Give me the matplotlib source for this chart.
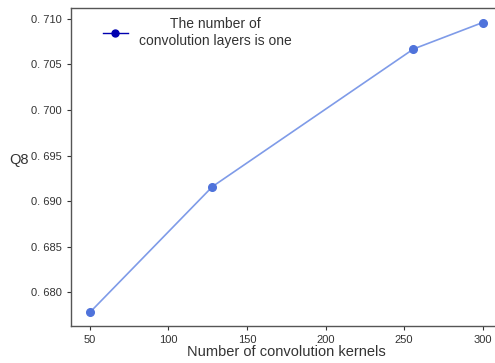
import numpy as np
import matplotlib
matplotlib.use('Agg')
import matplotlib.pyplot as plt
from matplotlib.lines import Line2D

kernels = [50, 128, 256, 300]
q8 = [0.6778, 0.6916, 0.7067, 0.7096]
yticks = [0.680, 0.685, 0.690, 0.695, 0.700, 0.705, 0.710]
ytick_labels = ['0. 680', '0. 685', '0. 690', '0. 695', '0. 700', '0. 705', '0. 710']
xticks = [50, 100, 150, 200, 250, 300]

plt.rcParams.update({'font.family': ['Liberation Sans', 'DejaVu Sans'], 'font.size': 8})

fig = plt.figure(figsize=(4.95, 3.63), dpi=100)
ax = fig.add_axes([0.143, 0.102, 0.87, 0.876])

ax.plot(kernels, q8, color='#7f9be8', lw=1.2, zorder=2)
ax.plot(kernels, q8, 'o', color='#4f73db', ms=5.5, zorder=3)

ax.set_xlim(37.8, 312)
ax.set_ylim(0.6763, 0.7112)
ax.set_xticks(xticks)
ax.set_yticks(yticks)
ax.set_yticklabels(ytick_labels)
ax.tick_params(labelsize=8, colors='#333333', length=3, width=0.8)
for s in ax.spines.values():
    s.set_color('#555555')
    s.set_linewidth(1.0)

ax.set_xlabel('Number of convolution kernels', fontsize=10.5, color='#333333', labelpad=0)
ax.set_ylabel('Q8', fontsize=10.5, color='#333333', rotation=0)
ax.yaxis.set_label_coords(-0.12, 0.5)

handle = Line2D([], [], color='#0000b0', marker='o', ms=5, lw=1)
ax.legend([handle], ['The number of\nconvolution layers is one'], loc='upper left',
          frameon=False, fontsize=10, handlelength=1.8, markerfirst=True,
          bbox_to_anchor=(0.045, 1.01), labelspacing=0.2)
for t in ax.get_legend().get_texts():
    t.set_ha('center')
    t.set_color('#333333')

fig.savefig('out.png', dpi=100)
